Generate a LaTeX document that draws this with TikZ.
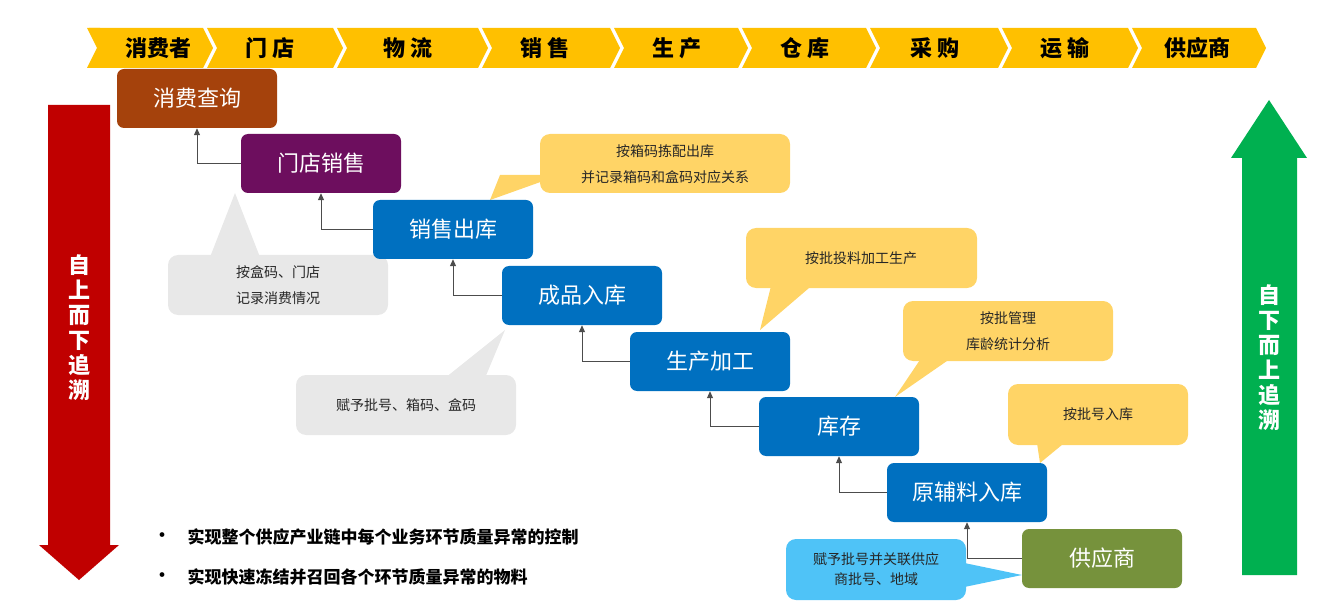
\documentclass[tikz,border=0pt]{standalone}
\usepackage{fontspec}
\setmainfont{Noto Sans CJK SC}
\usetikzlibrary{arrows.meta}
\definecolor{gold}{HTML}{FFC000}
\definecolor{brownb}{HTML}{A5420C}
\definecolor{purpb}{HTML}{6D0E5E}
\definecolor{blueb}{HTML}{0070C0}
\definecolor{greenb}{HTML}{76923C}
\definecolor{yel}{HTML}{FFD466}
\definecolor{gry}{HTML}{E8E8E8}
\definecolor{lblue}{HTML}{4FC3F7}
\definecolor{redA}{HTML}{C00000}
\definecolor{grnA}{HTML}{00B050}
\tikzset{
 stage/.style={rounded corners=7pt,minimum width=160pt,minimum height=59pt,text=white,font=\fontsize{22}{24}\selectfont,inner sep=0pt},
 link/.style={draw=black!70,line width=1pt,-{Triangle[length=7pt,width=6pt]}},
 ctext/.style={font=\fontsize{14}{26}\selectfont,align=center,text=black!85},
 band/.style={font=\bfseries\fontsize{22}{24}\selectfont},
 bul/.style={font=\bfseries\fontsize{17}{20}\selectfont,anchor=west},
 vtext/.style={text=white,font=\bfseries\fontsize{22}{25}\selectfont,align=center}
}
\begin{document}
\begin{tikzpicture}[x=1pt,y=-1pt]
\useasboundingbox (0,0) rectangle (1335,612);
% banner
\foreach \a/\b in {87/205,205/335,335/480,480/612,612/740,740/868,868/1000,1000/1130,1130/1258}{
 \fill[gold] (\a+2,28) -- (\b-2,28) -- (\b+8,48) -- (\b-2,68) -- (\a+2,68) -- (\a+12,48) -- cycle;}
\fill[gold] (87,28) -- (100,28) -- (100,68) -- (87,68) -- (97,48) -- cycle;
\foreach \x/\t [count=\i] in {158/消费者,270/门\ 店,408/物\ 流,545/销\ 售,677/生\ 产,805/仓\ 库,935/采\ 购,1065/运\ 输,1197/供应商}
 \node[band] (b\i) at (\x,48) {\t};
% side arrows
\fill[redA] (48,105) -- (110,105) -- (110,545) -- (119,545) -- (79,580) -- (39,545) -- (48,545) -- cycle;
\node[vtext] (la) at (79,328) {自\\上\\而\\下\\追\\溯};
\fill[grnA] (1242,575) -- (1297,575) -- (1297,158) -- (1307,158) -- (1269,100) -- (1231,158) -- (1242,158) -- cycle;
\node[vtext] (ra) at (1269,358) {自\\下\\而\\上\\追\\溯};
% callouts
\fill[yel] (500,175) -- (560,175) -- (490,200) -- cycle;
\fill[yel,rounded corners=10pt] (540,134) rectangle (790,193);
\node[ctext] (c1) at (665,164) {按箱码拣配出库\\并记录箱码和盒码对应关系};
\fill[yel] (775,270) -- (830,270) -- (760,330) -- cycle;
\fill[yel,rounded corners=10pt] (746,228) rectangle (977,288);
\node[ctext] (c2) at (861,258) {按批投料加工生产};
\fill[yel] (930,345) -- (970,345) -- (895,397) -- cycle;
\fill[yel,rounded corners=10pt] (903,301) rectangle (1113,361);
\node[ctext] (c3) at (1008,331) {按批管理\\库龄统计分析};
\fill[yel] (1035,430) -- (1080,430) -- (1040,463) -- cycle;
\fill[yel,rounded corners=10pt] (1008,384) rectangle (1188,445);
\node[ctext] (c4) at (1098,414) {按批号入库};
\fill[gry] (205,270) -- (265,270) -- (235,193) -- cycle;
\fill[gry,rounded corners=10pt] (168,255) rectangle (388,315);
\node[ctext] (g1) at (278,285) {按盒码、门店\\记录消费情况};
\fill[gry] (430,390) -- (480,390) -- (505,330) -- cycle;
\fill[gry,rounded corners=10pt] (296,375) rectangle (516,435);
\node[ctext] (g2) at (406,405) {赋予批号、箱码、盒码};
\fill[lblue] (950,560) -- (950,590) -- (1022,575) -- cycle;
\fill[lblue,rounded corners=10pt] (786,539) rectangle (966,600);
\node[ctext,font=\fontsize{14}{20}\selectfont] (l1) at (876,569) {赋予批号并关联供应\\商批号、地域};
% stages
\node[stage,fill=brownb] (s1) at (197,98.5) {消费查询};
\node[stage,fill=purpb] (s2) at (321,163.5) {门店销售};
\node[stage,fill=blueb] (s3) at (453,229.5) {销售出库};
\node[stage,fill=blueb] (s4) at (582,295.5) {成品入库};
\node[stage,fill=blueb] (s5) at (710,361.5) {生产加工};
\node[stage,fill=blueb] (s6) at (839,426.5) {库存};
\node[stage,fill=blueb] (s7) at (967,492.5) {原辅料入库};
\node[stage,fill=greenb] (s8) at (1102,558.5) {供应商};
\foreach \p/\n in {s1/s2,s2/s3,s3/s4,s4/s5,s5/s6,s6/s7,s7/s8}
 \draw[link] (\n.west) -| (\p.south);
% bullets
\node[bul] (d1) at (150,537) {·};
\node[bul] (t1) at (184,537) {实现整个供应产业链中每个业务环节质量异常的控制};
\node[bul] (d2) at (150,577) {·};
\node[bul] (t2) at (184,577) {实现快速冻结并召回各个环节质量异常的物料};
\end{tikzpicture}
\end{document}
